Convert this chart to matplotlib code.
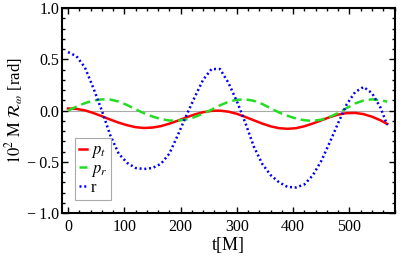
import numpy as np
import matplotlib
matplotlib.use("Agg")
import matplotlib.pyplot as plt
from matplotlib.ticker import MultipleLocator

plt.rcParams['font.family'] = 'serif'
plt.rcParams['font.serif'] = ['Liberation Serif', 'DejaVu Serif']
plt.rcParams['mathtext.fontset'] = 'stix'

# time samples [M]
t = [0, 15, 30, 45, 60, 75, 90, 105, 120, 135, 150, 165, 180, 195, 210,
     225, 240, 255, 270, 285, 300, 315, 330, 345, 360, 375, 390, 405, 420,
     435, 450, 465, 480, 495, 510, 525, 540, 555, 567]

# 10^2 M R_w for each momentum / position perturbation
p_t = [0.020, 0.016, 0.002, -0.024, -0.055, -0.088, -0.118, -0.143, -0.162,
       -0.170, -0.166, -0.152, -0.128, -0.099, -0.067, -0.038, -0.016, -0.003,
       -0.001, -0.011, -0.032, -0.062, -0.095, -0.127, -0.154, -0.172, -0.178,
       -0.172, -0.153, -0.126, -0.095, -0.064, -0.039, -0.025, -0.023, -0.035,
       -0.060, -0.095, -0.130]

p_r = [0.000, 0.038, 0.072, 0.097, 0.109, 0.107, 0.088, 0.054, 0.012,
       -0.026, -0.058, -0.083, -0.097, -0.099, -0.087, -0.063, -0.030, 0.009,
       0.051, 0.085, 0.105, 0.109, 0.095, 0.064, 0.022, -0.019, -0.051, -0.078,
       -0.095, -0.100, -0.089, -0.062, -0.023, 0.024, 0.069, 0.098, 0.110,
       0.100, 0.087]

r = [0.57, 0.53, 0.42, 0.22, 0.00, -0.24, -0.42, -0.51, -0.56, -0.57, -0.56,
     -0.52, -0.42, -0.24, -0.05, 0.13, 0.30, 0.405, 0.405, 0.27, 0.09, -0.12,
     -0.35, -0.52, -0.63, -0.70, -0.745, -0.75, -0.72, -0.63, -0.49, -0.31,
     -0.12, 0.06, 0.18, 0.23, 0.17, 0.03, -0.14]

fig = plt.figure(figsize=(4.15, 2.58), dpi=100)
ax = fig.add_axes([0.149, 0.174, 0.803, 0.795])

ax.axhline(0, color='#aaaaaa', lw=0.8, zorder=1)
ax.plot(t, p_t, color='#ff0000', lw=1.8, label=r'$p_t$')
ax.plot(t, p_r, color='#22dd22', lw=1.8, ls=(0, (3.8, 2)), label=r'$p_r$')
ax.plot(t, r, color='#0000ff', lw=1.8, ls=(0, (0.8, 1.1)), label='r')

ax.set_xlim(-11, 581)
ax.set_ylim(-1.0, 1.0)
ax.xaxis.set_major_locator(MultipleLocator(100))
ax.xaxis.set_minor_locator(MultipleLocator(20))
ax.yaxis.set_major_locator(MultipleLocator(0.5))
ax.yaxis.set_minor_locator(MultipleLocator(0.1))
ax.set_yticks([-1.0, -0.5, 0.0, 0.5, 1.0])
ax.set_yticklabels(['\u2212\u20091.0', '\u2212\u20090.5', '0.0', '0.5', '1.0'])

ax.tick_params(which='both', direction='in', top=True, right=True,
               labelsize=11.5, width=1.0)
ax.tick_params(axis='x', pad=4.5)
ax.tick_params(axis='y', pad=2)
ax.tick_params(which='major', length=4)
ax.tick_params(which='minor', length=2)
for s in ax.spines.values():
    s.set_linewidth(1.5)

ax.set_xlabel('t[M]', fontsize=13, labelpad=1)
ax.set_ylabel(r'$10^2\ \mathrm{M}\ \mathcal{R}_\omega$ [rad]', fontsize=12,
              labelpad=1)

leg = ax.legend(loc='lower left', bbox_to_anchor=(0.039, 0.063),
                borderaxespad=0, fontsize=12, handlelength=0.5,
                handletextpad=0.2, labelspacing=0.05, borderpad=0.25,
                fancybox=False, framealpha=1, edgecolor='#aaaaaa')
leg.get_frame().set_linewidth(0.8)

fig.savefig('out.png', dpi=100)
